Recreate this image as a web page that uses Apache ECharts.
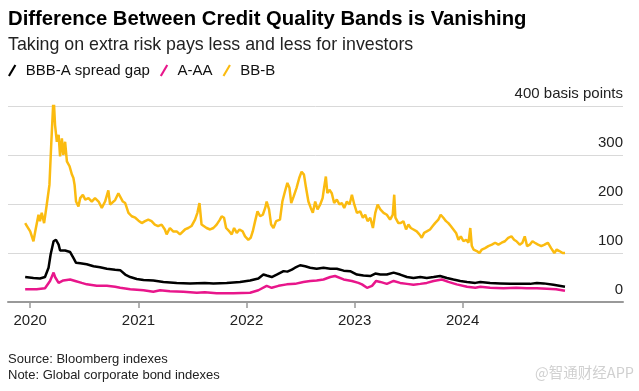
<!DOCTYPE html>
<html>
<head>
<meta charset="utf-8">
<script src="https://cdn.jsdelivr.net/npm/echarts@6/dist/echarts.min.js"></script>
<style>html,body{margin:0;padding:0;background:#fff}#c{width:639px;height:391px}</style>
</head>
<body>
<div id="c"></div>
<script>
// ---- Data (basis points) ----
const yearTicks = ['2020-01-01', '2021-01-01', '2022-01-01', '2023-01-01', '2024-01-01'];
const yTicks = [0, 100, 200, 300, 400];

const bbDates = ['2019-12-15','2019-12-21','2020-01-01','2020-01-12','2020-01-18','2020-01-29','2020-02-03','2020-02-09','2020-02-17','2020-02-26','2020-03-06','2020-03-12','2020-03-20','2020-03-25','2020-03-31','2020-04-06','2020-04-11','2020-04-17','2020-04-22','2020-04-28','2020-05-04','2020-05-13','2020-05-21','2020-05-26','2020-05-30','2020-06-04','2020-06-12','2020-06-18','2020-06-27','2020-07-05','2020-07-16','2020-07-27','2020-08-07','2020-08-19','2020-08-30','2020-09-10','2020-09-21','2020-09-27','2020-10-14','2020-10-25','2020-10-31','2020-11-09','2020-11-17','2020-11-28','2020-12-09','2020-12-21','2021-01-01','2021-01-12','2021-01-23','2021-02-03','2021-02-14','2021-02-25','2021-03-08','2021-03-20','2021-03-31','2021-04-06','2021-04-17','2021-04-28','2021-05-10','2021-05-21','2021-05-27','2021-06-07','2021-06-18','2021-06-29','2021-07-11','2021-07-19','2021-07-26','2021-08-02','2021-08-08','2021-08-19','2021-08-31','2021-09-11','2021-09-22','2021-10-03','2021-10-09','2021-10-17','2021-10-24','2021-11-04','2021-11-12','2021-11-20','2021-11-29','2021-12-08','2021-12-19','2021-12-27','2022-01-07','2022-01-15','2022-01-22','2022-01-30','2022-02-07','2022-02-16','2022-02-25','2022-03-05','2022-03-10','2022-03-18','2022-03-25','2022-04-02','2022-04-11','2022-04-24','2022-05-02','2022-05-11','2022-05-19','2022-05-26','2022-06-01','2022-06-09','2022-06-19','2022-06-28','2022-07-06','2022-07-14','2022-07-21','2022-07-29','2022-08-06','2022-08-13','2022-08-21','2022-08-29','2022-09-07','2022-09-15','2022-09-20','2022-09-26','2022-10-01','2022-10-08','2022-10-16','2022-10-24','2022-11-02','2022-11-11','2022-11-19','2022-11-27','2022-12-06','2022-12-15','2022-12-23','2022-12-31','2023-01-09','2023-01-20','2023-01-29','2023-02-06','2023-02-14','2023-02-23','2023-03-04','2023-03-12','2023-03-20','2023-03-29','2023-04-09','2023-04-20','2023-05-01','2023-05-10','2023-05-15','2023-05-19','2023-05-29','2023-06-06','2023-06-15','2023-06-24','2023-07-02','2023-07-10','2023-07-19','2023-07-30','2023-08-08','2023-08-16','2023-08-24','2023-09-02','2023-09-13','2023-09-22','2023-09-30','2023-10-11','2023-10-19','2023-10-28','2023-11-06','2023-11-14','2023-11-22','2023-12-01','2023-12-10','2023-12-18','2023-12-26','2024-01-04','2024-01-13','2024-01-21','2024-01-27','2024-02-01','2024-02-07','2024-02-18','2024-02-27','2024-03-06','2024-03-17','2024-03-28','2024-04-09','2024-04-20','2024-05-01','2024-05-12','2024-05-23','2024-06-03','2024-06-14','2024-06-23','2024-07-01','2024-07-12','2024-07-21','2024-07-29','2024-08-06','2024-08-15','2024-08-24','2024-09-01','2024-09-12','2024-09-23','2024-10-04','2024-10-15','2024-10-26','2024-11-06','2024-11-14','2024-11-23','2024-12-04','2024-12-12'];
const bbValues = [161,155,144,124,144,178,165,182,161,199,239,321,421,361,327,341,297,334,300,327,287,277,260,253,239,205,195,212,219,209,212,205,212,205,192,205,228,199,208,222,219,205,202,182,175,172,166,161,165,168,165,158,155,158,148,138,151,144,144,138,134,148,151,155,168,182,202,158,155,151,148,151,158,168,175,172,151,144,138,151,141,148,144,134,127,131,144,165,185,175,178,192,205,189,158,151,165,168,205,226,243,233,202,215,233,253,266,260,233,205,192,182,205,189,199,212,233,256,222,229,222,202,209,199,202,192,205,199,219,199,182,185,172,178,165,172,151,182,199,189,182,178,168,178,219,172,161,161,165,148,158,151,148,144,138,131,141,144,148,155,161,168,178,172,165,161,155,148,141,127,134,124,127,121,151,115,107,104,100,107,110,114,117,121,117,121,124,131,134,127,124,117,121,134,114,117,124,121,117,114,117,121,110,100,107,104,100,100];

const bbbDates = ['2019-12-15','2020-01-12','2020-02-03','2020-02-20','2020-03-03','2020-03-10','2020-03-20','2020-03-28','2020-04-06','2020-04-11','2020-04-28','2020-05-15','2020-05-26','2020-06-04','2020-06-18','2020-07-10','2020-08-02','2020-08-24','2020-09-16','2020-10-14','2020-10-31','2020-11-17','2020-12-04','2020-12-26','2021-01-18','2021-02-20','2021-03-26','2021-05-10','2021-06-24','2021-08-13','2021-09-11','2021-10-26','2021-12-10','2022-01-13','2022-02-10','2022-02-27','2022-03-10','2022-03-27','2022-04-13','2022-05-06','2022-05-19','2022-06-03','2022-06-14','2022-07-01','2022-07-18','2022-08-04','2022-08-26','2022-09-18','2022-10-11','2022-11-02','2022-11-25','2022-12-17','2023-01-09','2023-01-31','2023-02-23','2023-03-12','2023-03-29','2023-04-20','2023-05-13','2023-06-04','2023-06-27','2023-07-19','2023-08-11','2023-09-02','2023-09-25','2023-10-17','2023-11-09','2023-12-01','2023-12-24','2024-01-16','2024-02-13','2024-03-01','2024-04-03','2024-05-07','2024-06-10','2024-07-14','2024-08-16','2024-09-08','2024-10-01','2024-11-03','2024-12-12'];
const bbbValues = [51,49,48,51,70,97,124,127,117,105,105,102,90,80,79,77,73,71,68,66,65,56,51,47,45,44,41,39,38,39,38,39,41,44,48,56,54,51,56,63,62,66,70,75,73,70,68,70,68,68,64,63,56,54,53,58,56,56,60,56,51,49,51,49,51,53,49,46,43,41,39,41,39,38,37,37,37,39,38,35,31];

const aaDates = ['2019-12-15','2020-01-23','2020-02-20','2020-03-08','2020-03-20','2020-03-25','2020-04-06','2020-04-22','2020-05-15','2020-06-01','2020-06-23','2020-07-10','2020-08-13','2020-09-16','2020-10-14','2020-10-31','2020-12-04','2021-01-18','2021-02-20','2021-03-15','2021-04-17','2021-06-02','2021-07-17','2021-08-13','2021-09-22','2021-11-18','2022-01-13','2022-02-10','2022-03-10','2022-03-27','2022-04-19','2022-05-17','2022-06-14','2022-06-19','2022-07-12','2022-08-04','2022-08-26','2022-09-18','2022-10-11','2022-10-27','2022-11-25','2022-12-23','2023-01-14','2023-01-26','2023-02-12','2023-03-01','2023-03-15','2023-03-29','2023-04-20','2023-05-13','2023-06-04','2023-06-27','2023-07-19','2023-08-11','2023-09-02','2023-09-25','2023-10-23','2023-11-14','2023-12-12','2024-01-16','2024-02-13','2024-03-01','2024-04-03','2024-05-18','2024-07-01','2024-08-04','2024-09-08','2024-10-12','2024-11-12','2024-12-12'];
const aaValues = [26,26,28,43,60,51,39,44,46,43,39,36,33,33,31,29,26,24,21,24,22,21,19,20,18,18,19,24,33,29,33,36,37,39,41,43,44,46,51,53,46,43,39,36,29,33,43,41,37,43,39,37,35,37,39,43,46,41,36,31,29,31,29,28,29,28,28,27,26,23];

// ---- Chart ----
const ts = s => echarts.number.parseDate(s).getTime();
const pairs = (d, v) => d.map((x, i) => [ts(x), v[i]]);
const FONT = '"Liberation Sans", Arial, Helvetica, sans-serif';
const chart = echarts.init(document.getElementById('c'), null, { renderer: 'canvas' });
const yearTs = yearTicks.map(ts);

chart.setOption({
  animation: false,
  backgroundColor: '#ffffff',
  textStyle: { fontFamily: FONT },
  title: [
    { text: 'Difference Between Credit Quality Bands is Vanishing', left: 8, top: 9, padding: 0,
      textStyle: { fontFamily: FONT, fontSize: 20.3, fontWeight: 'bold', color: '#000' } },
    { text: 'Taking on extra risk pays less and less for investors', left: 8, top: 36, padding: 0,
      textStyle: { fontFamily: FONT, fontSize: 17.8, fontWeight: 'normal', color: '#222' } },
    { text: 'Source: Bloomberg indexes', left: 8, top: 353, padding: 0,
      textStyle: { fontFamily: FONT, fontSize: 13, fontWeight: 'normal', color: '#222' } },
    { text: 'Note: Global corporate bond indexes', left: 8, top: 369, padding: 0,
      textStyle: { fontFamily: FONT, fontSize: 13, fontWeight: 'normal', color: '#222' } },
    { text: '@智通财经APP', right: 5, top: 365, padding: 0,
      textStyle: { fontFamily: '"Noto Sans CJK SC", ' + FONT, fontSize: 14.5, fontWeight: 'normal', color: '#d0d0d0' } }
  ],
  legend: {
    left: 8, top: 63, padding: 0, itemWidth: 9, itemHeight: 12, itemGap: 10,
    icon: 'path://M0,12 L7,0 L9,1 L2,13 Z',
    textStyle: { fontFamily: FONT, fontSize: 15, color: '#111', padding: [0, 0, 0, 4] },
    data: ['BBB-A spread gap', 'A-AA', 'BB-B']
  },
  grid: { left: 8, right: 16, top: 106, bottom: 89, containLabel: false },
  xAxis: {
    type: 'value',
    min: ts('2019-10-18'), max: ts('2025-06-26'),
    axisLine: { show: true, lineStyle: { color: '#999', width: 2 } },
    axisTick: { show: true, length: 6, lineStyle: { color: '#999', width: 1.5 }, customValues: yearTs },
    axisLabel: { customValues: yearTs, fontSize: 15, color: '#222', margin: 11, fontFamily: FONT,
      formatter: v => String(new Date(v).getFullYear()) },
    splitLine: { show: false }
  },
  yAxis: {
    type: 'value', position: 'right', min: yTicks[0], max: yTicks[yTicks.length - 1], interval: 100,
    axisLine: { show: false }, axisTick: { show: false },
    axisLabel: { inside: true, margin: 0, fontSize: 15, color: '#222', fontFamily: FONT,
      verticalAlign: 'bottom', padding: [0, 0, 5, 0],
      formatter: v => v === 400 ? '400 basis points' : String(v) },
    splitLine: { show: true, lineStyle: { color: '#d9d9d9', width: 1 } }
  },
  series: [
    { name: 'BB-B', type: 'line', data: pairs(bbDates, bbValues), showSymbol: false,
      lineStyle: { color: '#fbbb10', width: 2.5 }, itemStyle: { color: '#fbbb10' }, z: 3 },
    { name: 'A-AA', type: 'line', data: pairs(aaDates, aaValues), showSymbol: false,
      lineStyle: { color: '#e8168b', width: 2.5 }, itemStyle: { color: '#e8168b' }, z: 4 },
    { name: 'BBB-A spread gap', type: 'line', data: pairs(bbbDates, bbbValues), showSymbol: false,
      lineStyle: { color: '#000000', width: 2.5 }, itemStyle: { color: '#000000' }, z: 5 }
  ]
});
</script>
</body>
</html>
